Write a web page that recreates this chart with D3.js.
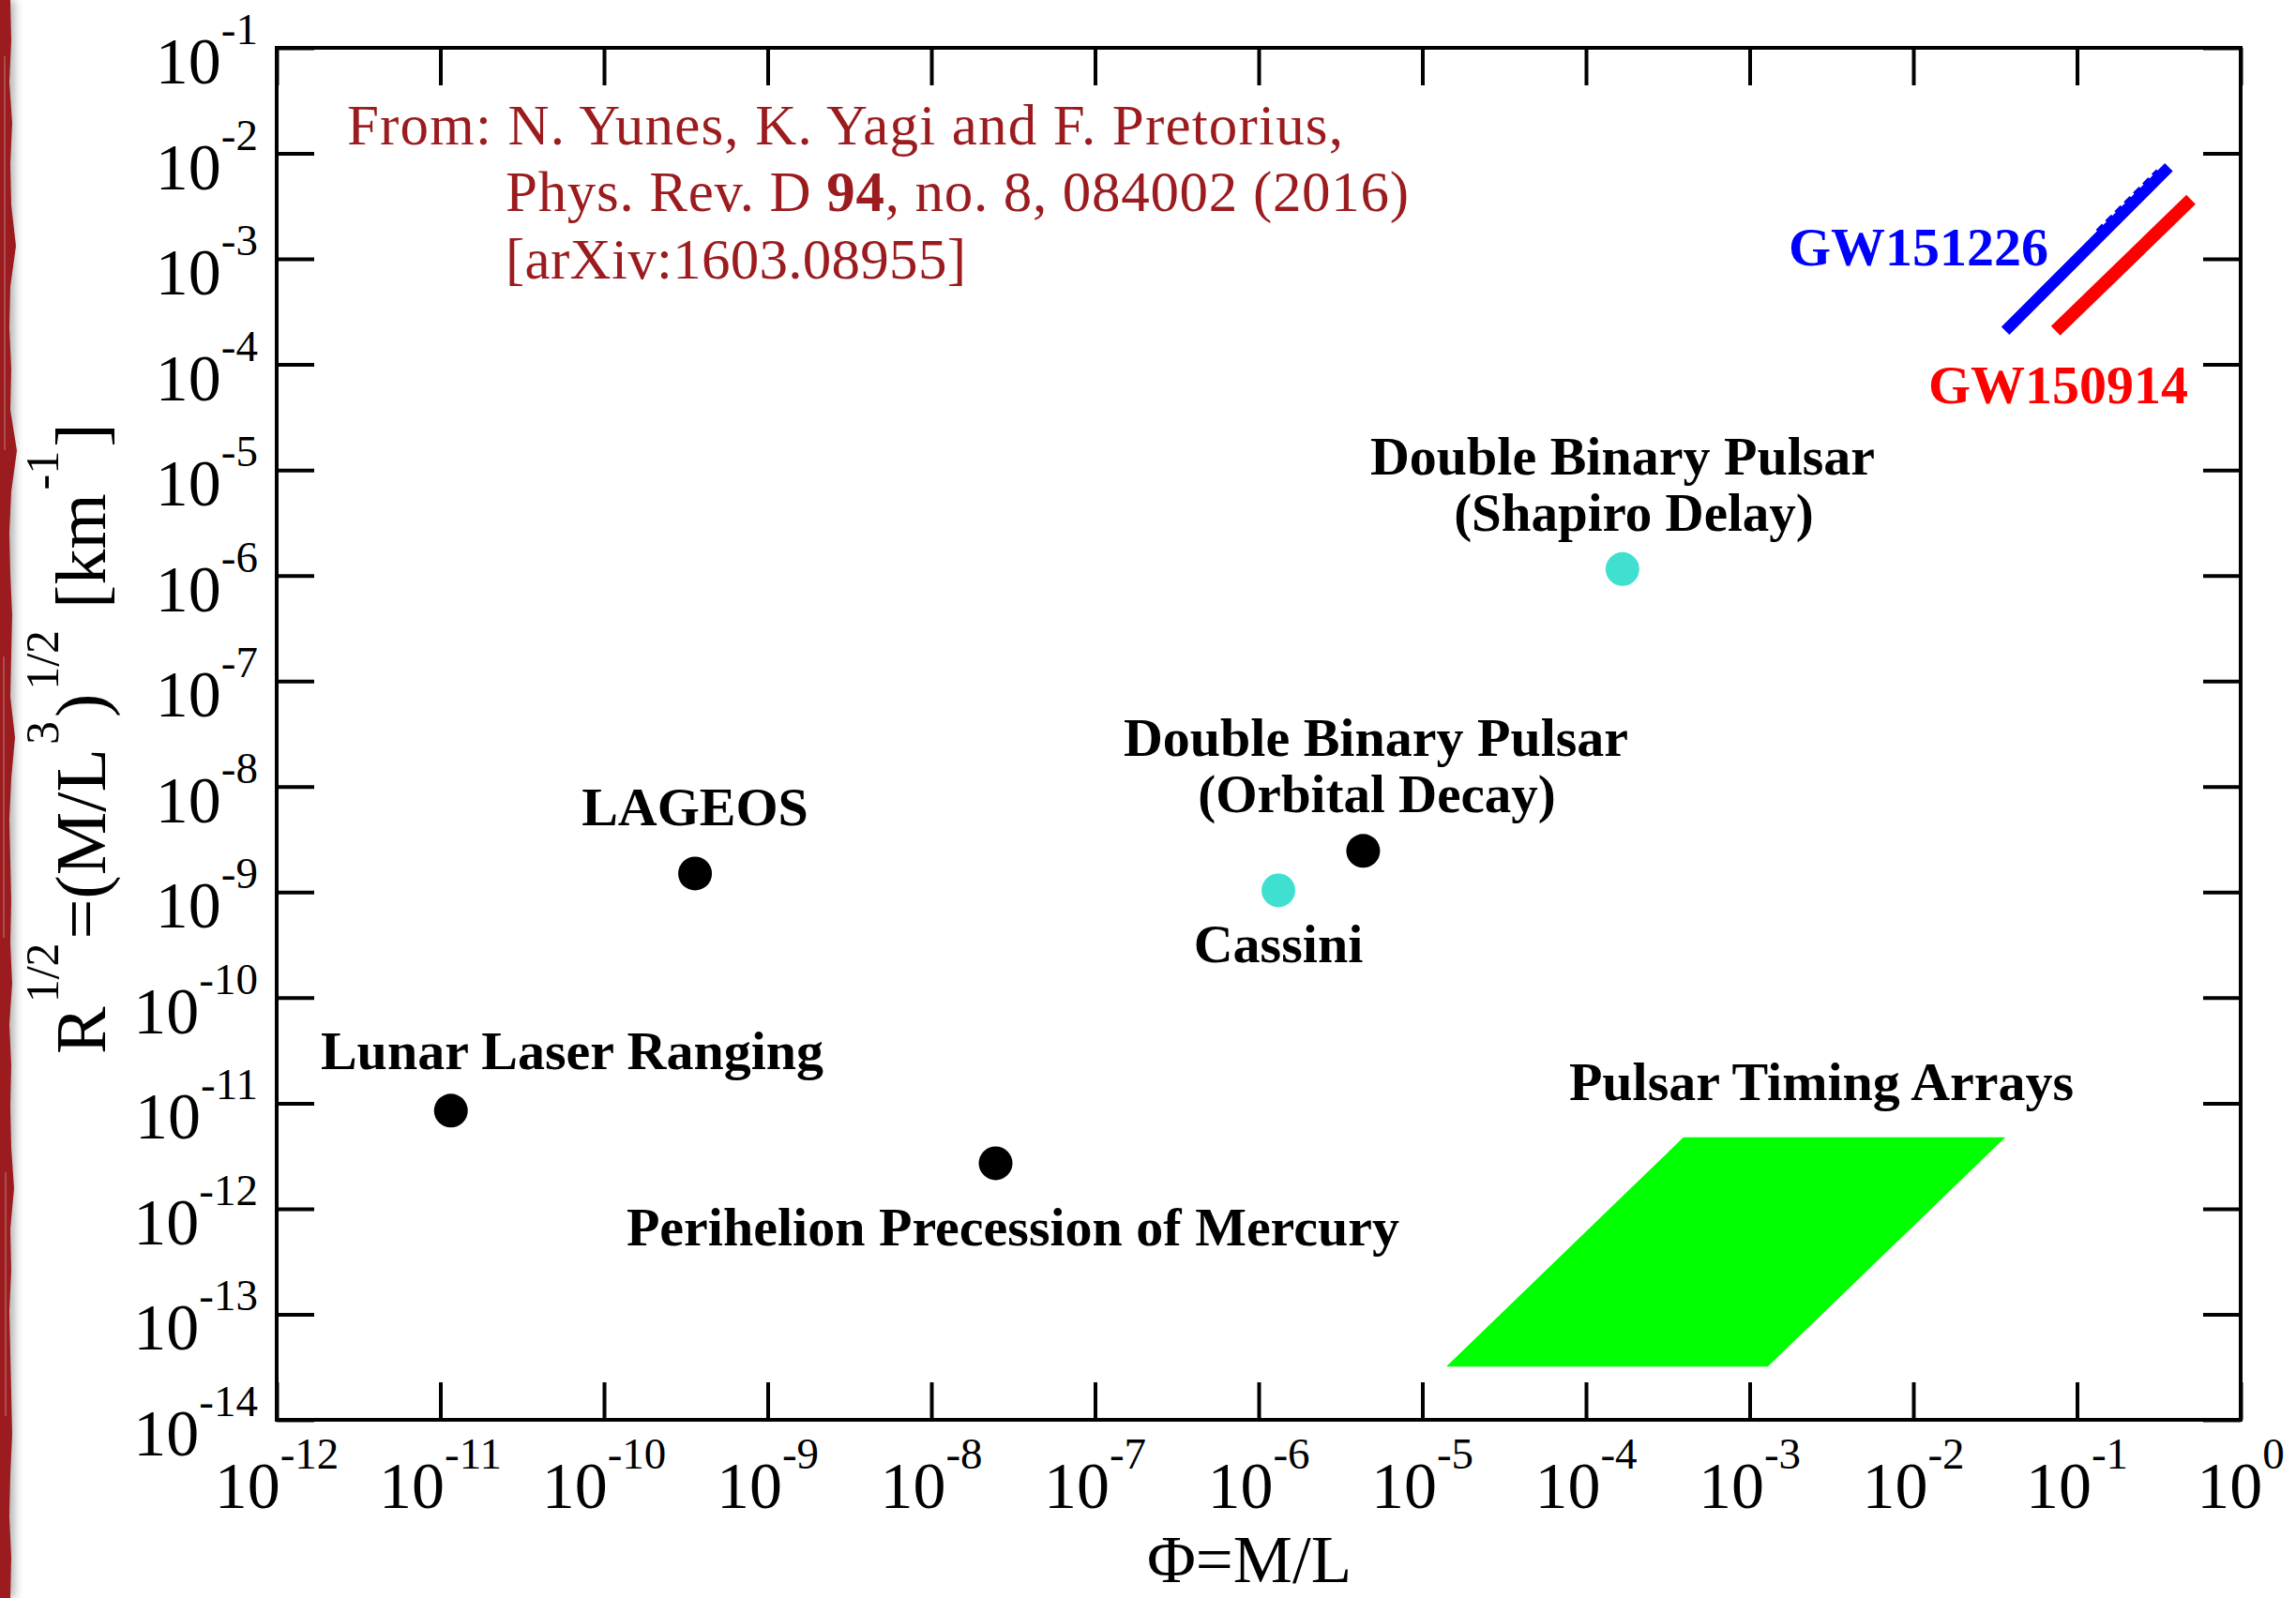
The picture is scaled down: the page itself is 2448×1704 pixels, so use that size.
<!DOCTYPE html>
<html>
<head>
<meta charset="utf-8">
<script src="https://cdn.jsdelivr.net/npm/d3@7"></script>
<style>
  html, body { margin: 0; padding: 0; background: #fff; }
  svg { display: block; }
</style>
</head>
<body>
<svg id="chart" width="2448" height="1704"></svg>
<script>
// ---- data ---------------------------------------------------------------
// axis decades (exponents of ten)
const xTickExps = d3.range(-12, 1);   // Phi = M/L : 1e-12 .. 1e0
const yTickExps = d3.range(-14, 0);   // R^(1/2)   : 1e-14 .. 1e-1

// individual tests of gravity
const testNames  = ["Lunar Laser Ranging", "Perihelion Precession of Mercury", "LAGEOS",
                    "Cassini", "Double Binary Pulsar (Orbital Decay)", "Double Binary Pulsar (Shapiro Delay)"];
const testPhi    = [1.16e-11, 2.47e-8, 3.6e-10, 1.32e-6, 4.35e-6, 1.67e-4];
const testR      = [8.5e-12,  2.7e-12, 1.5e-9,  1.04e-9, 2.46e-9, 1.15e-6];
const testColors = ["#000000", "#000000", "#000000", "#40e0d0", "#000000", "#40e0d0"];

// pulsar timing arrays region (corners)
const ptaPhi = [1.4e-5, 1.29e-3, 3.65e-2, 3.94e-4];
const ptaR   = [3.2e-14, 3.2e-14, 4.75e-12, 4.75e-12];

// gravitational-wave events
const gw150914Phi = [0.074, 0.497];
const gw150914R   = [2.08e-4, 3.65e-3];
const gw151226Phi = [0.0365, 0.364];
const gw151226R   = [2.08e-4, 7.4e-3];
const gw151226SpreadPhi = [0.136, 0.318];
const gw151226SpreadR   = [1.77e-3, 6.63e-3];

// ---- layout -------------------------------------------------------------
const W = 2448, H = 1704;
const plot = { left: 295, right: 2389, top: 51, bottom: 1514 };
const svg = d3.select("#chart");
const serif = "'Liberation Serif', 'Times New Roman', Times, serif";

svg.append("rect").attr("width", W).attr("height", H).attr("fill", "#fff");

const x = d3.scaleLog().domain([1e-12, 1]).range([plot.left, plot.right]);
const y = d3.scaleLog().domain([1e-14, 1e-1]).range([plot.bottom, plot.top]);

// ---- page edge ----------------------------------------------------------
const defs = svg.append("defs");
defs.append("filter").attr("id", "edgeShadow").attr("x", "-50%").attr("width", "300%")
  .append("feGaussianBlur").attr("stdDeviation", 5);
svg.append("rect").attr("x", 0).attr("y", 0).attr("width", 16).attr("height", H)
  .attr("fill", "#9a9a9a").attr("filter", "url(#edgeShadow)").attr("opacity", 0.7);
const edgeW = [11, 12, 10, 13, 11, 12, 17, 11, 10, 12, 11, 18, 12, 10, 11, 13, 12, 11, 16, 12,
               10, 11, 12, 11, 13, 10, 12, 11, 12, 15, 11, 12, 10, 11, 12, 13, 11, 10, 12, 11];
const edgeStep = H / (edgeW.length - 1);
const edgePts = [[0, 0]].concat(edgeW.map((w, i) => [w, i * edgeStep])).concat([[0, H]]);
svg.append("path").attr("d", d3.line()(edgePts) + "Z").attr("fill", "#9b1b1e");
[[5, 60, 420], [4, 700, 300], [6, 1250, 260]].forEach(([sx, sy, len]) => {
  svg.append("line").attr("x1", sx).attr("x2", sx).attr("y1", sy).attr("y2", sy + len)
    .attr("stroke", "#c9a6a6").attr("stroke-width", 1.2).attr("opacity", 0.6);
});

// ---- axes (inward ticks on all four sides) ------------------------------
const xTicks = xTickExps.map(e => Math.pow(10, e));
const yTicks = yTickExps.map(e => Math.pow(10, e));
const tickLen = 40;

function styleAxis(g) {
  g.select(".domain").remove();
  g.selectAll(".tick line").attr("stroke", "#000").attr("stroke-width", 4);
  g.selectAll(".tick text").remove();
}
svg.append("g").attr("transform", `translate(0,${plot.bottom})`)
  .call(d3.axisBottom(x).tickValues(xTicks).tickSize(-tickLen).tickFormat("")).call(styleAxis);
svg.append("g").attr("transform", `translate(0,${plot.top})`)
  .call(d3.axisTop(x).tickValues(xTicks).tickSize(-tickLen).tickFormat("")).call(styleAxis);
svg.append("g").attr("transform", `translate(${plot.left},0)`)
  .call(d3.axisLeft(y).tickValues(yTicks).tickSize(-tickLen).tickFormat("")).call(styleAxis);
svg.append("g").attr("transform", `translate(${plot.right},0)`)
  .call(d3.axisRight(y).tickValues(yTicks).tickSize(-tickLen).tickFormat("")).call(styleAxis);

// frame
svg.append("rect").attr("x", plot.left).attr("y", plot.top)
  .attr("width", plot.right - plot.left).attr("height", plot.bottom - plot.top)
  .attr("fill", "none").attr("stroke", "#000").attr("stroke-width", 4);

// power-of-ten labels with superscript exponents
function powerLabel(sel, exp) {
  sel.append("tspan").text("10");
  sel.append("tspan").attr("dy", -42).attr("font-size", 47).text(String(exp));
}
xTickExps.forEach(e => {
  svg.append("text").attr("x", x(Math.pow(10, e))).attr("y", plot.bottom + 94)
    .attr("text-anchor", "middle").attr("font-family", serif).attr("font-size", 70)
    .call(powerLabel, e);
});
yTickExps.forEach(e => {
  svg.append("text").attr("x", plot.left - 20).attr("y", y(Math.pow(10, e)) + 38)
    .attr("text-anchor", "end").attr("font-family", serif).attr("font-size", 70)
    .call(powerLabel, e);
});

// axis titles
svg.append("text").attr("x", 1332).attr("y", 1687).attr("text-anchor", "middle")
  .attr("font-family", serif).attr("font-size", 71).text("Φ=M/L");

const yTitle = svg.append("text")
  .attr("transform", "rotate(-90)").attr("x", -1124).attr("y", 112)
  .attr("font-family", serif).attr("font-size", 76);
const yParts = [["R", 0], ["1/2", 1], ["=(M/L", 0], ["3", 1], [")", 0], ["1/2", 1], [" [km", 0], ["-1", 1], ["]", 0]];
let raised = false;
yParts.forEach(([t, sup]) => {
  const ts = yTitle.append("tspan").text(t);
  if (sup && !raised) { ts.attr("dy", -50).attr("font-size", 50).attr("dx", 4); raised = true; }
  else if (sup) { ts.attr("font-size", 50); }
  else if (raised) { ts.attr("dy", 50).attr("dx", 4); raised = false; }
});

// ---- marks --------------------------------------------------------------
// pulsar timing arrays region
svg.append("path")
  .attr("d", d3.line()(ptaPhi.map((p, i) => [x(p), y(ptaR[i])])) + "Z")
  .attr("fill", "#00ff00");

// gravitational-wave bounds
const seg = d3.line();
svg.append("path").attr("d", seg(gw151226Phi.map((p, i) => [x(p), y(gw151226R[i])])))
  .attr("stroke", "#0000ff").attr("stroke-width", 12).attr("fill", "none");
svg.append("path").attr("d", seg(gw151226SpreadPhi.map((p, i) => [x(p), y(gw151226SpreadR[i])])))
  .attr("stroke", "#0000ff").attr("stroke-width", 9).attr("fill", "none")
  .attr("stroke-dasharray", "9 5");
svg.append("path").attr("d", seg(gw150914Phi.map((p, i) => [x(p), y(gw150914R[i])])))
  .attr("stroke", "#ff0000").attr("stroke-width", 14).attr("fill", "none");

// individual tests
svg.append("g").selectAll("circle").data(testNames).join("circle")
  .attr("cx", (d, i) => x(testPhi[i])).attr("cy", (d, i) => y(testR[i]))
  .attr("r", 18).attr("fill", (d, i) => testColors[i]);

// ---- annotations --------------------------------------------------------
function label(text, cx, baseY, opts = {}) {
  svg.append("text").attr("font-family", serif).attr("font-weight", "bold")
    .attr("font-size", opts.size || 58).attr("fill", opts.color || "#000")
    .attr("text-anchor", opts.anchor || "middle")
    .attr("x", cx).attr("y", baseY).text(text);
}
label("Lunar Laser Ranging", 610, 1140);
label("Perihelion Precession of Mercury", 1080, 1328);
label("LAGEOS", 741, 880);
label("Cassini", 1363, 1026);
label("Double Binary Pulsar", 1467, 806);
label("(Orbital Decay)", 1468, 866, { size: 57 });
label("Double Binary Pulsar", 1730, 506);
label("(Shapiro Delay)", 1742, 566, { size: 57 });
label("Pulsar Timing Arrays", 1942, 1173);
label("GW151226", 2184, 283, { anchor: "end", color: "#0000ff" });
label("GW150914", 2333, 430, { anchor: "end", color: "#ff0000" });

// citation, one text line each so every line can be set to its measure
function citeLine(xPos, yPos, width) {
  return svg.append("text").attr("font-family", serif).attr("font-size", 61).attr("fill", "#9b1b1e")
    .attr("x", xPos).attr("y", yPos)
    .attr("textLength", width).attr("lengthAdjust", "spacing");
}
citeLine(370, 154, 1062).text("From: N. Yunes, K. Yagi and F. Pretorius,");
const c2 = citeLine(539, 225, 963);
c2.append("tspan").text("Phys. Rev. D ");
c2.append("tspan").attr("font-weight", "bold").text("94");
c2.append("tspan").text(", no. 8, 084002 (2016)");
citeLine(539, 297, 491).text("[arXiv:1603.08955]");
</script>
</body>
</html>
